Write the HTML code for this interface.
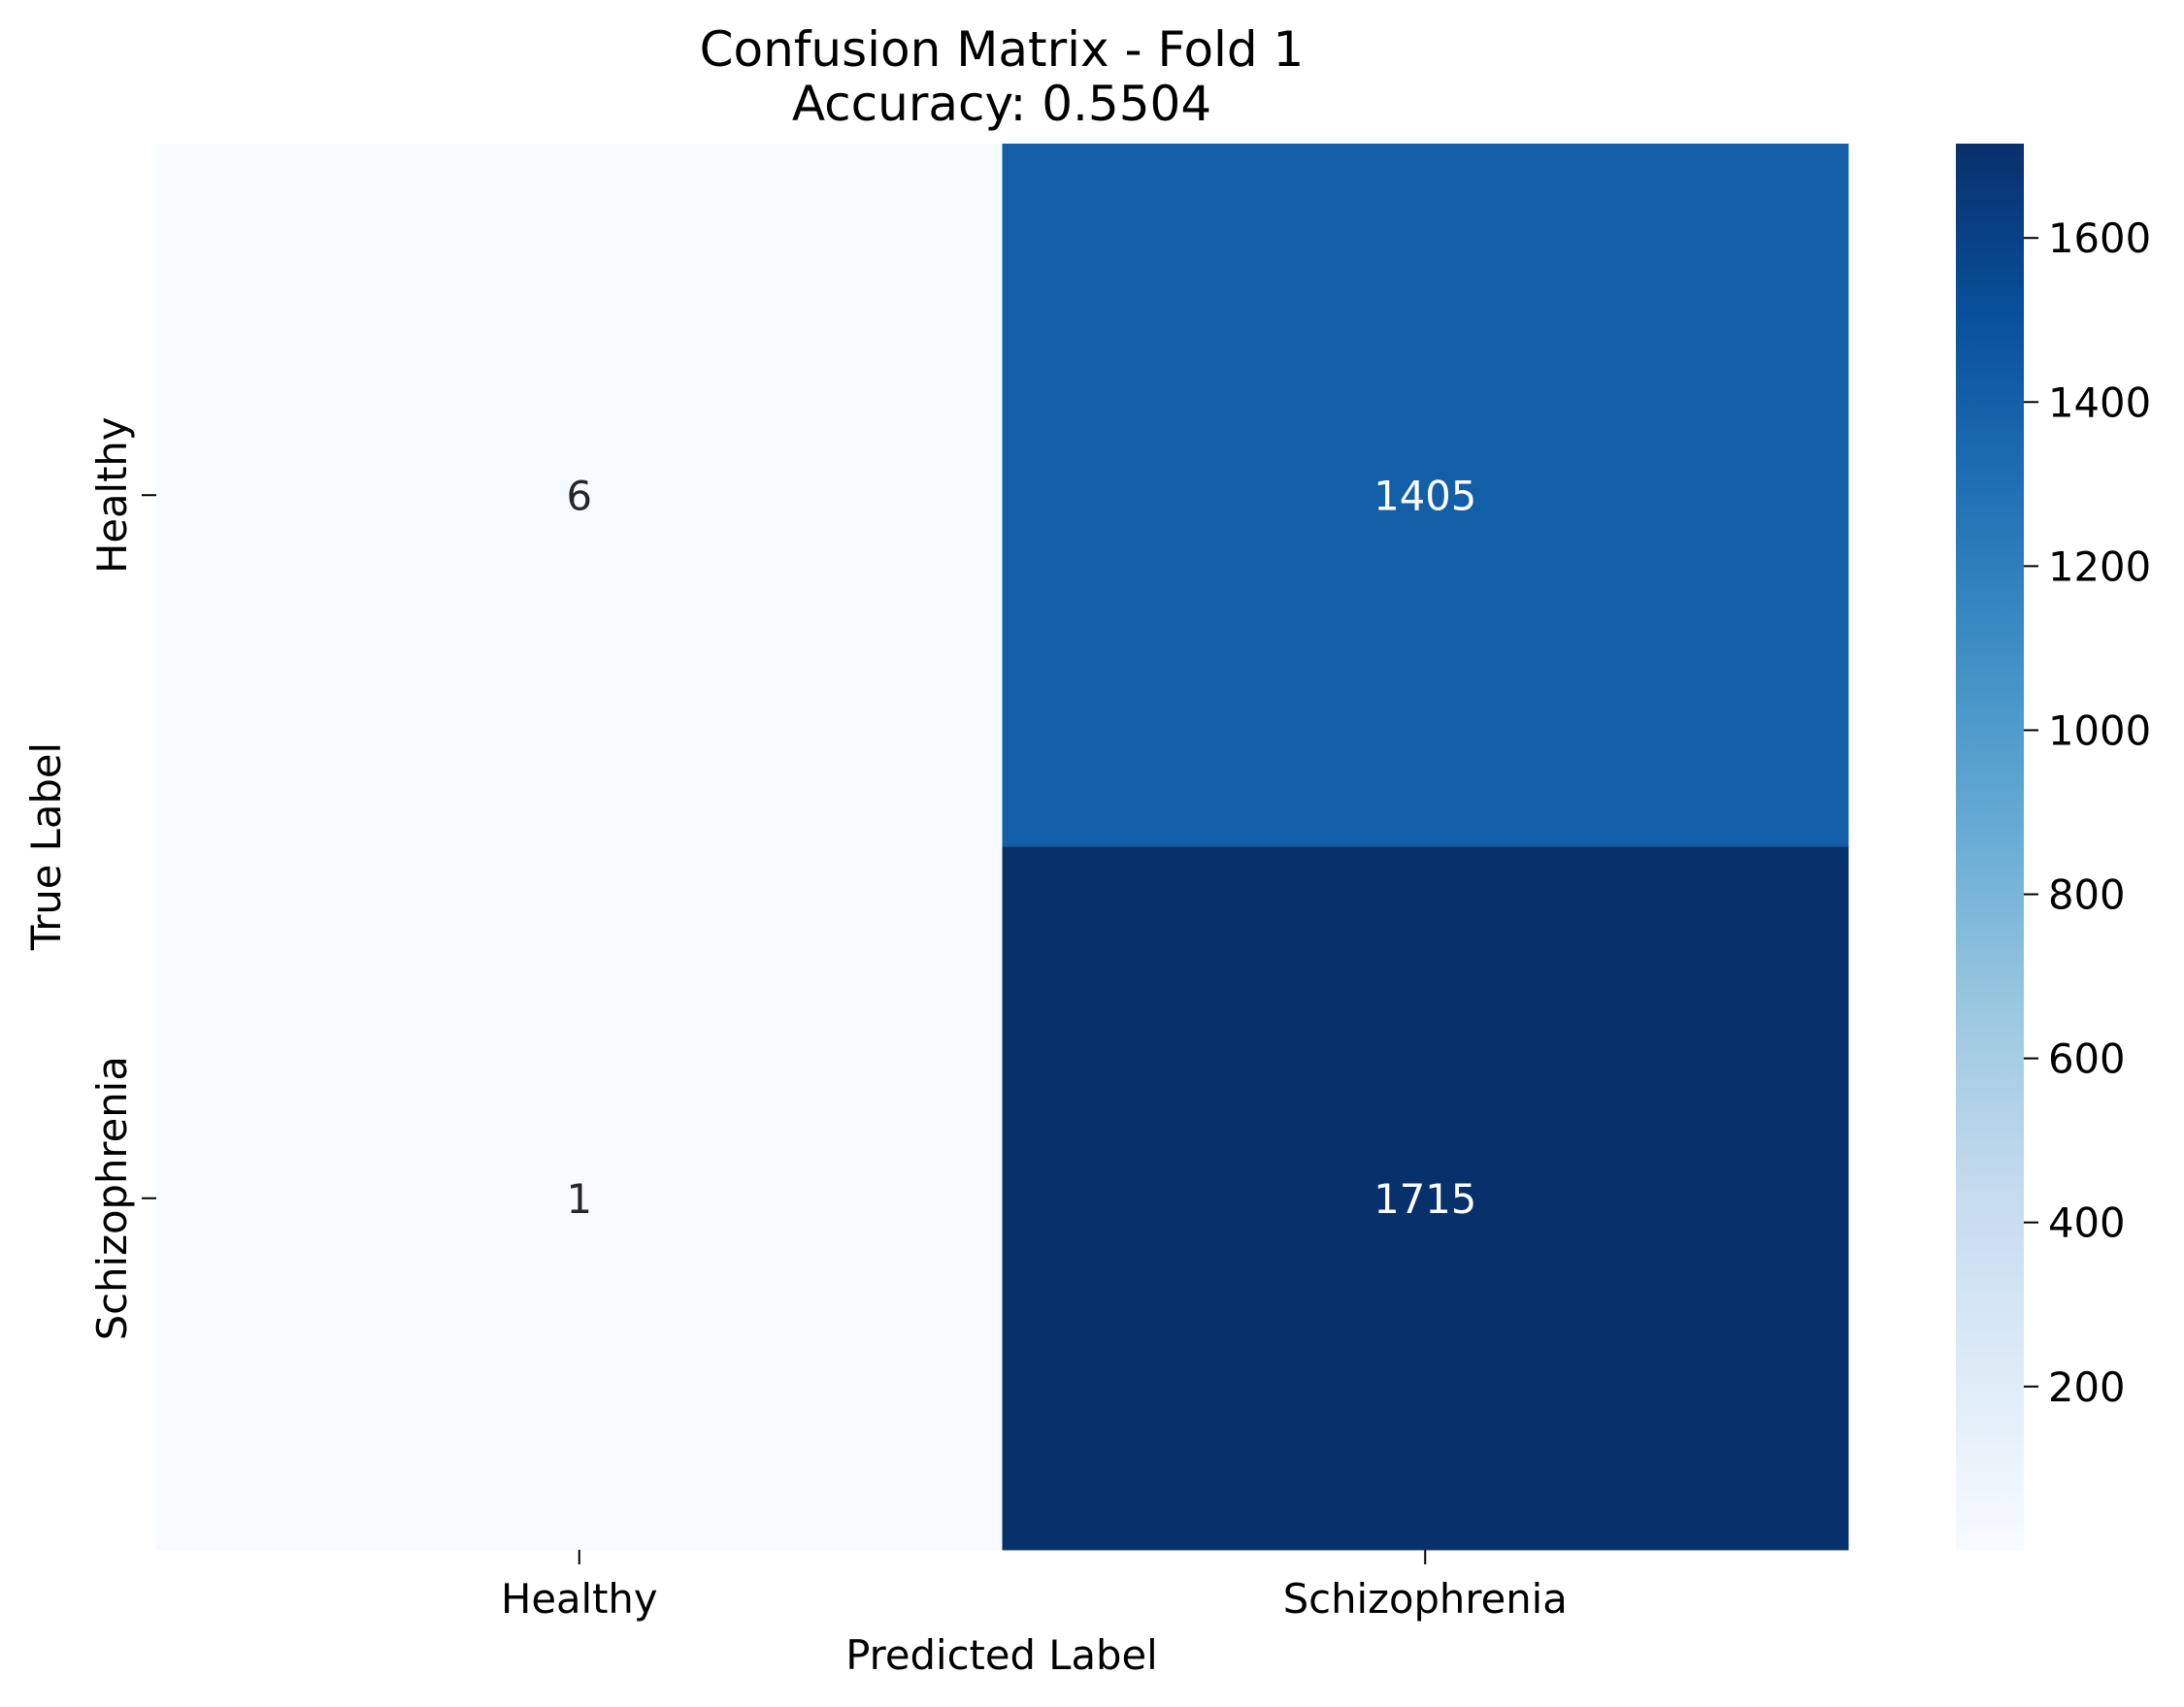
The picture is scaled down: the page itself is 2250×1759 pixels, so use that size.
<!DOCTYPE html>
<html><head><meta charset="utf-8"><style>
html,body{margin:0;padding:0;background:#fff}
svg{display:block;font-family:"DejaVu Sans","Liberation Sans",sans-serif}
</style></head><body>
<svg id="chart" width="2250" height="1759" viewBox="0 0 2250 1759" xmlns="http://www.w3.org/2000/svg">
<defs>
<linearGradient id="blues" x1="0" y1="1" x2="0" y2="0">
<stop offset="0" stop-color="#f7fbff"/><stop offset="0.125" stop-color="#deebf7"/><stop offset="0.25" stop-color="#c6dbef"/><stop offset="0.375" stop-color="#9ecae1"/><stop offset="0.5" stop-color="#6baed6"/><stop offset="0.625" stop-color="#4292c6"/><stop offset="0.75" stop-color="#2171b5"/><stop offset="0.875" stop-color="#08519c"/><stop offset="1" stop-color="#08306b"/>
</linearGradient>
</defs>
<text x="1032" y="68" font-size="50" text-anchor="middle" fill="#000">Confusion Matrix - Fold 1</text>
<text x="1032" y="124" font-size="50" text-anchor="middle" fill="#000">Accuracy: 0.5504</text>
<g id="cells"></g>
<g id="axes"></g>
<rect x="2015" y="148" width="70" height="1449" fill="url(#blues)"/>
<g id="cbticks"></g>
<text x="1032" y="1720" font-size="41.7" text-anchor="middle" fill="#000">Predicted Label</text>
<text transform="translate(62,872) rotate(-90)" font-size="41.7" text-anchor="middle" fill="#000">True Label</text>
</svg>
<script>
const categories = ["Healthy", "Schizophrenia"];
const matrixValues = [[6, 1405], [1, 1715]];
const colorbarTicks = [200, 400, 600, 800, 1000, 1200, 1400, 1600];
const NS = "http://www.w3.org/2000/svg";
const X0 = 161, X1 = 1904, Y0 = 148, Y1 = 1597;
const flat = matrixValues.flat();
const vmin = Math.min(...flat), vmax = Math.max(...flat);
const stops = ["#f7fbff","#deebf7","#c6dbef","#9ecae1","#6baed6","#4292c6","#2171b5","#08519c","#08306b"].map(h=>[1,3,5].map(i=>parseInt(h.substr(i,2),16)));
function color(v){
  let t = (v - vmin) / (vmax - vmin); t = Math.max(0, Math.min(1, t));
  const p = t * (stops.length - 1), i = Math.min(Math.floor(p), stops.length - 2), f = p - i;
  const c = stops[i].map((a, k) => Math.round(a + (stops[i+1][k] - a) * f));
  return { fill: "rgb(" + c.join(",") + ")", lum: (0.299*c[0] + 0.587*c[1] + 0.114*c[2]) / 255 };
}
const n = categories.length;
const cw = (X1 - X0) / n, ch = (Y1 - Y0) / n;
function xPos(j){ return X0 + cw * j; }
function yPos(i){ return Y0 + ch * i; }
function cbY(v){ return Y1 - (v - vmin) / (vmax - vmin) * (Y1 - Y0); }
function mk(tag, attrs, parent, txt){
  const e = document.createElementNS(NS, tag);
  for (const k in attrs) e.setAttribute(k, attrs[k]);
  if (txt !== undefined) e.textContent = txt;
  parent.appendChild(e); return e;
}
const cells = document.getElementById("cells");
const axes = document.getElementById("axes");
for (let i = 0; i < n; i++) for (let j = 0; j < n; j++) {
  const v = matrixValues[i][j], c = color(v);
  const r = mk("rect", {x: xPos(j), y: yPos(i), width: cw + 0.5, height: ch + 0.5, fill: c.fill}, cells);
  
  
  const t = mk("text", {x: xPos(j) + cw/2, y: yPos(i) + ch/2 + 15, "font-size": 41.7, "text-anchor": "middle", fill: c.lum < 0.5 ? "#fff" : "#262626"}, cells, String(v));
  
  
}
categories.forEach((cat, k) => {
  const cx = xPos(k) + cw/2;
  const tx = mk("line", {x1: cx, x2: cx, y1: Y1, y2: Y1 + 15, stroke: "#000", "stroke-width": 2}, axes);
  
  
  const lx = mk("text", {x: cx, y: 1662, "font-size": 41.7, "text-anchor": "middle", fill: "#000"}, axes, cat);
  
  
  const cy = yPos(k) + ch/2;
  const ty = mk("line", {x1: X0 - 15, x2: X0, y1: cy, y2: cy, stroke: "#000", "stroke-width": 2}, axes);
  
  
  const ly = mk("text", {transform: "translate(130," + cy + ") rotate(-90)", "font-size": 41.7, "text-anchor": "middle", fill: "#000"}, axes, cat);
  
  
});
const cbt = document.getElementById("cbticks");
colorbarTicks.forEach(v => {
  const y = cbY(v);
  const l = mk("line", {x1: 2085, x2: 2100, y1: y, y2: y, stroke: "#000", "stroke-width": 2}, cbt);
  
  
  const t = mk("text", {x: 2110, y: y + 15, "font-size": 41.7, fill: "#000"}, cbt, String(v));
  
  
});
</script>
</body></html>
